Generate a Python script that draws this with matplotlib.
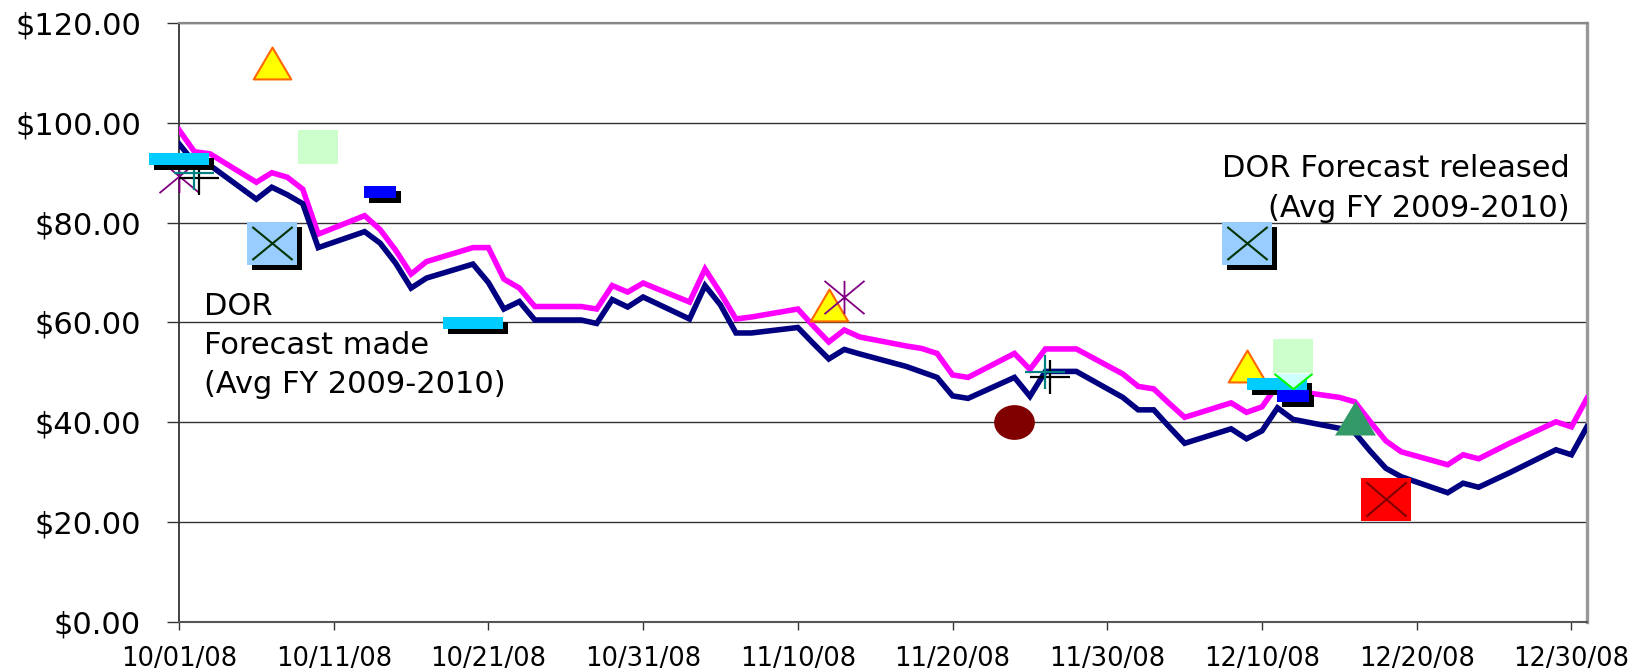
"""
Crude price vs DOR forecasts, Oct-Dec 2008 (matplotlib re-draw).
Writes out.png.
"""
import matplotlib
matplotlib.use("Agg")
import matplotlib.pyplot as plt
import matplotlib.dates as mdates
import matplotlib.path as mpath
import matplotlib.transforms as mtransforms
import pandas as pd

# --- daily prices (trading days) ---
TRADE_DATES = [
    "2008-10-01", "2008-10-02", "2008-10-03", "2008-10-06", "2008-10-07", "2008-10-08",
    "2008-10-09", "2008-10-10", "2008-10-13", "2008-10-14", "2008-10-15", "2008-10-16",
    "2008-10-17", "2008-10-20", "2008-10-21", "2008-10-22", "2008-10-23", "2008-10-24",
    "2008-10-27", "2008-10-28", "2008-10-29", "2008-10-30", "2008-10-31",
    "2008-11-03", "2008-11-04", "2008-11-05", "2008-11-06", "2008-11-07", "2008-11-10",
    "2008-11-11", "2008-11-12", "2008-11-13", "2008-11-14", "2008-11-17", "2008-11-18",
    "2008-11-19", "2008-11-20", "2008-11-21", "2008-11-24", "2008-11-25", "2008-11-26",
    "2008-11-28",
    "2008-12-01", "2008-12-02", "2008-12-03", "2008-12-04", "2008-12-05", "2008-12-08",
    "2008-12-09", "2008-12-10", "2008-12-11", "2008-12-12", "2008-12-15", "2008-12-16",
    "2008-12-17", "2008-12-18", "2008-12-19", "2008-12-22", "2008-12-23", "2008-12-24",
    "2008-12-26", "2008-12-29", "2008-12-30", "2008-12-31",
]
PRICE_UPPER = [  # magenta
    98.6, 94.2, 93.8, 88.1, 90.0, 89.1, 86.7, 77.7, 81.4, 78.6, 74.5, 69.7,
    72.2, 75.0, 75.0, 68.7, 66.9, 63.2, 63.2, 62.7, 67.4, 66.1, 67.9,
    64.1, 70.7, 65.9, 60.7, 61.1, 62.7, 59.3, 56.1, 58.5, 57.1, 55.3, 54.8,
    53.8, 49.5, 49.0, 53.8, 50.6, 54.7, 54.7,
    49.7, 47.2, 46.7, 43.8, 41.0, 43.9, 42.0, 43.1, 47.5, 46.3, 45.0, 44.1,
    40.1, 36.3, 34.1, 31.5, 33.5, 32.7, 35.8, 40.1, 39.1, 44.8,
]
PRICE_LOWER = [  # navy
    95.8, 92.0, 91.5, 84.7, 87.1, 85.6, 83.8, 75.0, 78.2, 75.9, 71.9, 66.9,
    68.9, 71.7, 68.0, 62.7, 64.2, 60.5, 60.5, 59.8, 64.6, 63.1, 65.1,
    60.7, 67.4, 63.5, 57.9, 57.9, 59.0, 55.8, 52.7, 54.6, 53.7, 51.2, 50.1,
    49.0, 45.3, 44.8, 49.0, 45.2, 50.2, 50.2,
    45.0, 42.5, 42.5, 39.1, 35.8, 38.7, 36.7, 38.3, 42.9, 40.6, 38.8, 37.9,
    34.2, 30.8, 29.1, 25.9, 27.8, 27.0, 29.9, 34.5, 33.5, 39.1,
]

# --- forecast points ---
CYAN_DASH_DATES = ["2008-10-01", "2008-10-20", "2008-12-11"]
CYAN_DASH_VALUES = [92.8, 59.8, 47.6]
BLUE_DASH_DATES = ["2008-10-14", "2008-12-12"]
BLUE_DASH_VALUES = [86.2, 45.2]
XSQUARE_DATES = ["2008-10-07", "2008-12-09"]
XSQUARE_VALUES = [75.9, 75.9]
YELLOW_TRI_DATES = ["2008-10-07", "2008-11-12", "2008-12-09"]
YELLOW_TRI_VALUES = [112.0, 63.6, 51.3]
GREEN_SQ_DATES = ["2008-10-10", "2008-12-12"]
GREEN_SQ_VALUES = [95.1, 53.3]
STAR_DATES = ["2008-10-01", "2008-11-13"]
STAR_VALUES = [89.4, 65.1]
PLUS_DATES = ["2008-10-02", "2008-11-26"]
PLUS_VALUES = [89.9, 50.0]
DOT_DATES = ["2008-11-24"]
DOT_VALUES = [40.1]
VEE_DATES = ["2008-12-12"]
VEE_VALUES = [48.2]
SEA_TRI_DATES = ["2008-12-16"]
SEA_TRI_VALUES = [40.9]
RED_SQ_DATES = ["2008-12-18"]
RED_SQ_VALUES = [24.7]

TICK_DATES = pd.date_range("2008-10-01", periods=10, freq="10D")
Y_TICKS = [0, 20, 40, 60, 80, 100, 120]

NAVY, MAGENTA = "#000080", "#ff00ff"
MOVE, LINE = mpath.Path.MOVETO, mpath.Path.LINETO

plt.rcParams.update({"font.family": "DejaVu Sans", "font.size": 21})


def rect(w, h):
    return mpath.Path([(-w, -h), (w, -h), (w, h), (-w, h), (-w, -h)], closed=True)


def cross(w, h):
    return mpath.Path([(-w, -h), (w, h), (-w, h), (w, -h)], [MOVE, LINE, MOVE, LINE])


def plus(w, h):
    return mpath.Path([(-w, 0), (w, 0), (0, -h), (0, h)], [MOVE, LINE, MOVE, LINE])


def star(w, h):
    return mpath.Path([(-w, -h), (w, h), (-w, h), (w, -h), (0, -h), (0, h)],
                      [MOVE, LINE, MOVE, LINE, MOVE, LINE])


def tri(w, h, up=True):
    s = 1 if up else -1
    return mpath.Path([(0, s * h), (-w, -s * h), (w, -s * h), (0, s * h)], closed=True)


def ellipse(w, h):
    return mpath.Path.unit_circle().transformed(mtransforms.Affine2D().scale(w, h))


fig = plt.figure(figsize=(16.36, 6.72), dpi=100)
ax = fig.add_axes([0.1094, 0.0744, 0.8606, 0.8914])
shadow_tr = mtransforms.offset_copy(ax.transData, fig=fig, x=5, y=-5, units="dots")


def marks(dates, vals, marker, ms, fc="none", ec="none", mew=0, z=4, shadow=False):
    x = mdates.date2num(pd.to_datetime(dates))
    if shadow:
        ax.plot(x, vals, ls="none", marker=marker, ms=ms, mfc="black" if fc != "none" else "none",
                mec="black" if ec != "none" else "none", mew=mew, transform=shadow_tr,
                zorder=z, clip_on=False)
    ax.plot(x, vals, ls="none", marker=marker, ms=ms, mfc=fc, mec=ec, mew=mew, zorder=z,
            clip_on=False)


xd = pd.to_datetime(TRADE_DATES)
ax.plot(xd, PRICE_UPPER, color=MAGENTA, lw=4.0, solid_joinstyle="miter", zorder=3)
ax.plot(xd, PRICE_LOWER, color=NAVY, lw=4.0, solid_joinstyle="miter", zorder=3)

marks(YELLOW_TRI_DATES, YELLOW_TRI_VALUES, tri(1, 0.85), 27, fc="#ffff00", ec="#ff6600", mew=1.5)
marks(GREEN_SQ_DATES, GREEN_SQ_VALUES, rect(1, 0.86), 29.3, fc="#ccffcc", z=5)
marks(STAR_DATES, STAR_VALUES, star(1, 0.83), 28.8, ec="#800080", mew=1.3)
marks(PLUS_DATES, PLUS_VALUES, plus(1, 0.83), 29.5, ec="#008080", mew=1.6, shadow=True)
marks(DOT_DATES, DOT_VALUES, ellipse(1.17, 1), 29.3, fc="#800000")
marks(XSQUARE_DATES, XSQUARE_VALUES, rect(1, 0.86), 36, fc="#99ccff", shadow=True)
marks(XSQUARE_DATES, XSQUARE_VALUES, cross(1, 0.82), 29, ec="#003300", mew=1.5)
marks(RED_SQ_DATES, RED_SQ_VALUES, rect(1, 0.86), 36, fc="#ff0000")
marks(RED_SQ_DATES, RED_SQ_VALUES, cross(1, 0.85), 29, ec="#800000", mew=1.5)
marks(SEA_TRI_DATES, SEA_TRI_VALUES, tri(1, 0.83), 29.5, fc="#339966")
marks(CYAN_DASH_DATES, CYAN_DASH_VALUES, rect(1, 0.19), 43.2, fc="#00ccff", shadow=True, z=5)
marks(BLUE_DASH_DATES, BLUE_DASH_VALUES, rect(1, 0.36), 23.5, fc="#0000ff", shadow=True, z=5)
marks(VEE_DATES, VEE_VALUES, tri(1, 0.4, up=False), 27.5, fc="#ccffff", z=6)
marks(VEE_DATES, VEE_VALUES, mpath.Path([(-1, 0.4), (0, -0.4), (1, 0.4)], [MOVE, LINE, LINE]),
      27.5, ec="#00ff00", mew=1.5, z=6)

ax.set_xlim(pd.Timestamp("2008-10-01"), pd.Timestamp("2008-12-31"))
ax.set_ylim(0, 120)
ax.set_xticks(TICK_DATES)
ax.xaxis.set_major_formatter(mdates.DateFormatter("%m/%d/%y"))
ax.set_yticks(Y_TICKS)
ax.yaxis.set_major_formatter(plt.FuncFormatter(lambda v, _: f"${v:.2f}"))
ax.tick_params(axis="y", length=9, width=1, color="#333333", pad=18.4, labelsize=22)
ax.tick_params(axis="x", length=6, width=1, color="#333333", pad=11, labelsize=18.5)
ax.grid(axis="y", color="#333333", lw=1)
ax.set_axisbelow(True)
ax.spines["left"].set(color="#333333", lw=1.3)
ax.spines["bottom"].set(color="#555555", lw=1.5)
ax.spines["top"].set(color="#888888", lw=1.6)
ax.spines["right"].set(color="#999999", lw=2.4)

# va="baseline" on multi-line text pins the last line's baseline
fig.text(204 / 1636, 1 - 393 / 672, "DOR\nForecast made\n(Avg FY 2009-2010)",
         ha="left", va="baseline", fontsize=22, linespacing=1.43)
fig.text(1570 / 1636, 1 - 217 / 672, "DOR Forecast released\n(Avg FY 2009-2010)",
         ha="right", va="baseline", fontsize=22, linespacing=1.46, multialignment="right")

fig.savefig("out.png", dpi=100)
